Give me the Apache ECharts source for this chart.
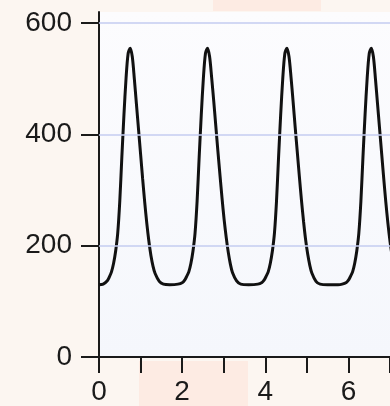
<!DOCTYPE html>
<html>
<head>
<meta charset="utf-8">
<script src="https://cdn.jsdelivr.net/npm/echarts@6/dist/echarts.min.js"></script>
<style>
  html, body { margin: 0; padding: 0; background: #fcf6f1; }
  #chart { width: 390px; height: 406px; }
</style>
</head>
<body>
<div id="chart"></div>
<script>
// readings: time (x) and signal (y)
const timeValues = [
  0, 0.1, 0.2, 0.25, 0.3, 0.35, 0.4, 0.45, 0.5, 0.55, 0.6, 0.65, 0.7, 0.75,
  0.8, 0.85, 0.9, 0.95, 1.0, 1.05, 1.1, 1.15, 1.2, 1.25, 1.3, 1.35, 1.45, 1.55, 1.7,
  1.9, 2.01, 2.06, 2.11, 2.16, 2.21, 2.26, 2.31, 2.36, 2.41, 2.46, 2.51, 2.56, 2.61,
  2.66, 2.71, 2.76, 2.81, 2.86, 2.91, 2.96, 3.01, 3.06, 3.11, 3.16, 3.21, 3.31, 3.41, 3.6,
  3.82, 3.92, 3.97, 4.02, 4.07, 4.12, 4.17, 4.22, 4.27, 4.32, 4.37, 4.42, 4.47, 4.52,
  4.57, 4.62, 4.67, 4.72, 4.77, 4.82, 4.87, 4.92, 4.97, 5.02, 5.07, 5.12, 5.22, 5.32, 5.5, 5.75,
  5.85, 5.95, 6.0, 6.05, 6.1, 6.15, 6.2, 6.25, 6.3, 6.35, 6.4, 6.45, 6.5, 6.55,
  6.6, 6.65, 6.7, 6.75, 6.8, 6.85, 6.9, 6.95, 7.0, 7.05
];
const signalValues = [
  130, 131, 137, 144, 153, 168, 190, 222, 280, 360, 435, 500, 545, 555,
  540, 500, 455, 410, 365, 320, 278, 240, 208, 182, 163, 150, 136, 131, 130,
  131, 134, 138, 145, 153, 168, 190, 222, 280, 360, 435, 500, 545, 555,
  540, 502, 460, 415, 370, 327, 285, 247, 215, 188, 167, 152, 137, 131, 130,
  131, 134, 138, 145, 153, 168, 190, 222, 280, 360, 435, 500, 545, 555,
  540, 502, 458, 412, 368, 324, 282, 244, 211, 185, 165, 151, 136, 131, 130, 130,
  131, 134, 138, 145, 153, 168, 190, 222, 280, 360, 435, 500, 545, 555,
  540, 500, 455, 410, 365, 320, 278, 240, 208, 182
];
const yTicks = [0, 200, 400, 600];
const xLabels = [0, 2, 4, 6];

const points = timeValues.map((t, i) => [t, signalValues[i]]);

const chart = echarts.init(document.getElementById("chart"));
chart.setOption({
  backgroundColor: "#fcf6f1",
  animation: false,
  graphic: [
    { type: "rect", z: -10, shape: { x: 213, y: 0, width: 108, height: 11 }, style: { fill: "#fdebe3" } },
    { type: "rect", z: -10, shape: { x: 139, y: 361, width: 109, height: 45 }, style: { fill: "#fdebe3" } },
  ],
  grid: {
    left: 99,
    right: -3,
    top: 12,
    bottom: 47,
    show: true,
    borderWidth: 0,
    backgroundColor: {
      type: "linear", x: 0, y: 0, x2: 0, y2: 1,
      colorStops: [
        { offset: 0, color: "#fcfcfe" },
        { offset: 1, color: "#f5f7fc" },
      ],
    },
  },
  xAxis: {
    type: "value",
    min: 0,
    max: 7,
    interval: 1,
    axisLine: { onZero: false, lineStyle: { color: "#1a1a1a", width: 2 } },
    axisTick: { show: true, length: 16, lineStyle: { color: "#1a1a1a", width: 2 } },
    axisLabel: {
      customValues: xLabels,
      margin: 21,
      color: "#1a1a1a",
      fontSize: 28,
      fontFamily: "Liberation Sans",
    },
    splitLine: { show: false },
  },
  yAxis: {
    type: "value",
    min: 0,
    max: 620,
    axisLine: { show: true, onZero: false, lineStyle: { color: "#1a1a1a", width: 2 } },
    axisTick: { show: true, customValues: yTicks, length: 18, lineStyle: { color: "#1a1a1a", width: 2 } },
    axisLabel: {
      customValues: yTicks,
      margin: 27,
      color: "#1a1a1a",
      fontSize: 28,
      fontFamily: "Liberation Sans",
    },
    splitLine: { show: false },
  },
  series: [
    {
      type: "line",
      data: points,
      smooth: 0.3,
      showSymbol: false,
      lineStyle: { color: "#111", width: 3 },
      markLine: {
        silent: true,
        symbol: "none",
        label: { show: false },
        lineStyle: { color: "#c4ccf0", width: 1.5, type: "solid" },
        data: yTicks.filter((v) => v > 0).map((v) => ({ yAxis: v })),
      },
    },
  ],
});
</script>
</body>
</html>
